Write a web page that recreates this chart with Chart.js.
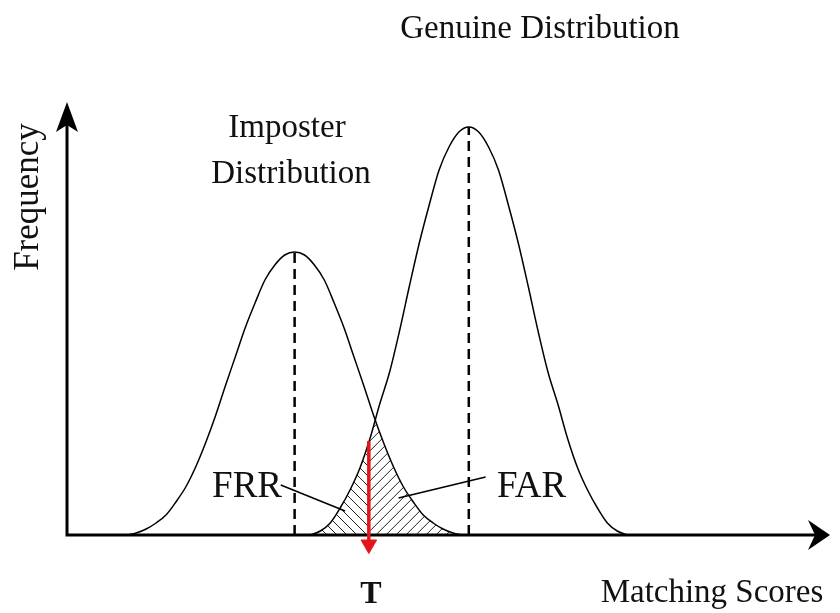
<!DOCTYPE html>
<html lang="en">
<head>
<meta charset="UTF-8">
<title>Imposter and Genuine Distribution</title>
<script src="https://cdn.jsdelivr.net/npm/chart.js"></script>
<style>
  html, body { margin: 0; padding: 0; background: #fff; }
  #wrap { width: 840px; height: 613px; }
</style>
</head>
<body>
<div id="wrap"><canvas id="chart" width="840" height="613"></canvas></div>
<script>
// scores (x) and frequencies (y), arbitrary units
const imposterScores = [6, 7, 8, 9, 10, 11, 12, 13, 14, 15, 16, 17, 18, 19, 20, 21, 22, 23,
  24, 25, 26, 27, 28, 29, 30, 31, 32, 33, 34, 35, 36, 37, 38, 39, 40];
const imposterFreq = [0, 0.2, 0.6, 1.2, 2.0, 3.3, 4.8, 6.8, 9.2, 11.9, 14.9, 17.8, 20.7, 23.2, 25.5, 27.0, 28.0, 28.3,
  28.0, 27.0, 25.5, 23.2, 20.7, 17.8, 14.9, 11.9, 9.2, 6.8, 4.8, 3.3, 2.0, 1.2, 0.6, 0.2, 0];
const genuineScores = [24.6, 25.6, 26.6, 27.6, 28.6, 29.6, 30.6, 31.6, 32.6, 33.6, 34.6, 35.6, 36.6, 37.6, 38.6, 39.6, 40.6,
  41.6, 42.6, 43.6, 44.6, 45.6, 46.6, 47.6, 48.6, 49.6, 50.6, 51.6, 52.6, 53.6, 54.6, 55.6, 56.6];
const genuineFreq = [0, 0.4, 1.2, 2.7, 4.5, 6.7, 9.6, 13.1, 16.3, 20.4, 24.9, 29.2, 33.0, 36.5, 38.8, 40.3, 40.8,
  40.3, 38.8, 36.5, 33.0, 29.2, 24.9, 20.4, 16.3, 13.1, 9.6, 6.7, 4.5, 2.7, 1.2, 0.4, 0];
const imposterMean = 23.0;
const genuineMean = 40.6;
const threshold = 30.5;
const thresholdArrow = [9.4, -0.95];   // top of the red arrow, arrow head
const axisMax = [77.1, 43.3];
const frrLeader = [[21.6, 5.0], [28.1, 2.4]];
const farLeader = [[42.3, 5.8], [33.5, 3.7]];

const toPoints = (xs, ys) => xs.map((x, i) => ({ x: x, y: ys[i] }));
const imposterPeak = Math.max(...imposterFreq);
const genuinePeak = Math.max(...genuineFreq);

const SERIF = '"Liberation Serif", "Times New Roman", serif';
const INK = '#111';

function clipUnder(ctx, line, bottom) {
  const pts = line.points;
  ctx.beginPath();
  line.path(ctx);
  ctx.lineTo(pts[pts.length - 1].x, bottom);
  ctx.lineTo(pts[0].x, bottom);
  ctx.closePath();
  ctx.clip();
}

function hatch(ctx, left, right, top, bottom, dir, gap) {
  const h = bottom - top;
  ctx.beginPath();
  for (let s = left - h; s < right + h; s += gap) {
    if (dir > 0) { ctx.moveTo(s, bottom); ctx.lineTo(s + h, top); }
    else { ctx.moveTo(s, top); ctx.lineTo(s + h, bottom); }
  }
  ctx.stroke();
}

// hatched FRR / FAR areas and the two arrowed axes
const backdrop = {
  id: 'backdrop',
  beforeDatasetsDraw(chart) {
    const { ctx, chartArea: area, scales: { x, y } } = chart;
    const imp = chart.getDatasetMeta(1).dataset;
    const gen = chart.getDatasetMeta(2).dataset;
    imp.updateControlPoints(area, 'x');
    gen.updateControlPoints(area, 'x');
    const y0 = y.getPixelForValue(0);
    const tx = x.getPixelForValue(threshold);

    [[-1, area.left, tx], [1, tx, area.right]].forEach(([dir, l, r]) => {
      ctx.save();
      clipUnder(ctx, imp, y0);
      clipUnder(ctx, gen, y0);
      ctx.beginPath();
      ctx.rect(l, area.top, r - l, y0 - area.top);
      ctx.clip();
      ctx.strokeStyle = '#222';
      ctx.lineWidth = 1;
      hatch(ctx, l, r, area.top + 250, y0, dir, 10);
      ctx.restore();
    });

    const x0 = x.getPixelForValue(0);
    const xEnd = x.getPixelForValue(axisMax[0]);
    const yEnd = y.getPixelForValue(axisMax[1]);
    ctx.save();
    ctx.strokeStyle = '#000';
    ctx.fillStyle = '#000';
    ctx.lineWidth = 3;
    ctx.beginPath();
    ctx.moveTo(x0 - 1.5, y0);
    ctx.lineTo(xEnd - 12, y0);
    ctx.moveTo(x0, y0 + 1.5);
    ctx.lineTo(x0, yEnd + 12);
    ctx.stroke();
    ctx.beginPath();
    ctx.moveTo(xEnd, y0);
    ctx.lineTo(xEnd - 22, y0 - 15);
    ctx.lineTo(xEnd - 15, y0);
    ctx.lineTo(xEnd - 22, y0 + 15);
    ctx.closePath();
    ctx.moveTo(x0, yEnd);
    ctx.lineTo(x0 - 11, yEnd + 30);
    ctx.lineTo(x0, yEnd + 23);
    ctx.lineTo(x0 + 11, yEnd + 30);
    ctx.closePath();
    ctx.fill();
    ctx.restore();
  }
};

const labels = {
  id: 'labels',
  afterDraw(chart) {
    const ctx = chart.ctx;
    ctx.save();
    ctx.fillStyle = INK;
    ctx.textAlign = 'center';
    ctx.textBaseline = 'alphabetic';
    ctx.font = '33px ' + SERIF;
    ctx.fillText('Genuine Distribution', 540, 38);
    ctx.fillText('Imposter', 287, 137);
    ctx.fillText('Distribution', 291, 183);
    ctx.fillText('Matching Scores', 712, 602);
    ctx.font = '37px ' + SERIF;
    ctx.textAlign = 'right';
    ctx.fillText('FRR', 282, 497);
    ctx.textAlign = 'left';
    ctx.fillText('FAR', 497, 497);
    ctx.textAlign = 'center';
    ctx.font = 'bold 32px ' + SERIF;
    ctx.fillText('T', 371, 603);
    ctx.translate(38, 197);
    ctx.rotate(-Math.PI / 2);
    ctx.font = '35px ' + SERIF;
    ctx.fillText('Frequency', 0, 0);
    ctx.restore();
  }
};

const plain = { pointRadius: 0, fill: false, tension: 0 };

new Chart(document.getElementById('chart'), {
  type: 'line',
  data: {
    datasets: [
      Object.assign({}, plain, {
        label: 'Threshold T',
        data: [{ x: threshold, y: thresholdArrow[0] }, { x: threshold, y: thresholdArrow[1] }],
        borderColor: '#e3151b',
        borderWidth: 3.5,
        pointRadius: [0, 9],
        pointStyle: 'triangle',
        rotation: 180,
        pointBackgroundColor: '#e3151b',
        pointBorderColor: '#e3151b',
        pointBorderWidth: 1,
        clip: false
      }),
      Object.assign({}, plain, {
        label: 'Imposter Distribution',
        data: toPoints(imposterScores, imposterFreq),
        borderColor: '#000',
        borderWidth: 1.5,
        cubicInterpolationMode: 'monotone'
      }),
      Object.assign({}, plain, {
        label: 'Genuine Distribution',
        data: toPoints(genuineScores, genuineFreq),
        borderColor: '#000',
        borderWidth: 1.5,
        cubicInterpolationMode: 'monotone'
      }),
      Object.assign({}, plain, {
        label: 'Imposter mean',
        data: [{ x: imposterMean, y: 0 }, { x: imposterMean, y: imposterPeak }],
        borderColor: '#000',
        borderWidth: 2.5,
        borderDash: [10, 6]
      }),
      Object.assign({}, plain, {
        label: 'Genuine mean',
        data: [{ x: genuineMean, y: 0 }, { x: genuineMean, y: genuinePeak }],
        borderColor: '#000',
        borderWidth: 2.5,
        borderDash: [10, 6]
      }),
      Object.assign({}, plain, {
        label: 'FRR',
        data: frrLeader.map(p => ({ x: p[0], y: p[1] })),
        borderColor: '#000',
        borderWidth: 1.5
      }),
      Object.assign({}, plain, {
        label: 'FAR',
        data: farLeader.map(p => ({ x: p[0], y: p[1] })),
        borderColor: '#000',
        borderWidth: 1.5
      })
    ]
  },
  options: {
    responsive: false,
    animation: false,
    layout: { padding: { left: 67, right: 2, top: 102, bottom: 58 } },
    scales: {
      x: { type: 'linear', min: 0, max: axisMax[0], display: false },
      y: { type: 'linear', min: -2, max: axisMax[1], display: false }
    },
    plugins: {
      legend: { display: false },
      tooltip: { enabled: false }
    }
  },
  plugins: [backdrop, labels]
});
</script>
</body>
</html>
